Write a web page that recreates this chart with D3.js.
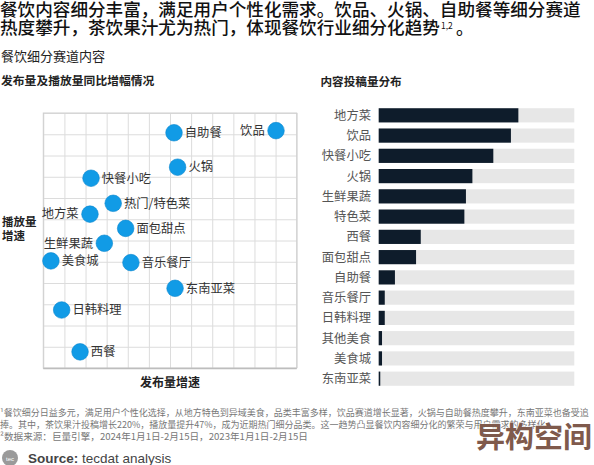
<!DOCTYPE html>
<html><head><meta charset="utf-8">
<script src="https://cdn.jsdelivr.net/npm/d3@7"></script>
<style>
html,body{margin:0;padding:0;background:#fff;}
svg{display:block;font-family:"Noto Sans CJK SC","Noto Sans",sans-serif;}
</style></head>
<body>
<svg id="c" width="594" height="465"></svg>
<script>
// ---- data ----
const scatterNames = ["饮品","自助餐","火锅","快餐小吃","热门/特色菜","地方菜","面包甜点","生鲜果蔬","美食城","音乐餐厅","东南亚菜","日韩料理","西餐"];
const pubGrowth   = [11.02, 6.19, 6.36, 2.26, 3.31, 2.21, 3.90, 2.89, 0.36, 4.15, 6.24, 0.87, 1.74];
const playGrowth  = [11.17, 11.07, 9.45, 8.93, 7.75, 7.24, 6.57, 5.87, 5.04, 4.96, 3.75, 2.73, 0.76];
const gridTicks = d3.range(0, 13);

const barCategories = ["地方菜","饮品","快餐小吃","火锅","生鲜果蔬","特色菜","西餐","面包甜点","自助餐","音乐餐厅","日韩料理","其他美食","美食城","东南亚菜"];
const barValues = [71.4, 67.6, 58.6, 47.9, 44.6, 43.8, 21.5, 19.1, 8.3, 3.1, 3.1, 1.7, 1.7, 0.8];
const barMax = 100;

const titleLines = ["餐饮内容细分丰富，满足用户个性化需求。饮品、火锅、自助餐等细分赛道","热度攀升，茶饮果汁尤为热门，体现餐饮行业细分化趋势"];
const notes = [
  "¹餐饮细分日益多元，满足用户个性化选择，从地方特色到异域美食，品类丰富多样，饮品赛道增长显著，火锅与自助餐热度攀升，东南亚菜也备受追",
  "捧。其中，茶饮果汁投稿增长220%，播放量提升47%，成为近期热门细分品类。这一趋势凸显餐饮内容细分化的繁荣与用户需求的多样化。",
  "²数据来源：巨量引擎，2024年1月1日-2月15日，2023年1月1日-2月15日"
];

const svg = d3.select("#c");

// ---- titles ----
svg.append("text").attr("x",0).attr("y",15.5).attr("font-size",17.6).attr("font-weight",500).attr("fill","#111").text(titleLines[0]);
const t2 = svg.append("text").attr("x",0).attr("y",34).attr("font-size",17.6).attr("font-weight",500).attr("fill","#111");
t2.append("tspan").text(titleLines[1]);
const supX = 0 + 25 * 17.6 + 1;
svg.append("text").attr("x",supX).attr("y",29).attr("font-size",8.5).attr("fill","#111").text("1,2");
svg.append("text").attr("x",supX + 15).attr("y",34).attr("font-size",17.6).attr("font-weight",500).attr("fill","#111").text("。");

svg.append("text").attr("x",1).attr("y",61).attr("font-size",13).attr("fill","#222").text("餐饮细分赛道内容");
svg.append("text").attr("x",1).attr("y",85).attr("font-size",11.8).attr("font-weight",700).attr("fill","#222").text("发布量及播放量同比增幅情况");
svg.append("text").attr("x",320.5).attr("y",86).attr("font-size",11.6).attr("font-weight",700).attr("fill","#222").text("内容投稿量分布");

// ---- scatter ----
const x = d3.scaleLinear().domain([0,12]).range([43.3,296.7]);
const y = d3.scaleLinear().domain([0,12]).range([368,113]);

const gx = svg.append("g").attr("transform","translate(0,368)")
  .call(d3.axisBottom(x).tickValues(gridTicks).tickSize(-(368-113)).tickFormat(""));
const gy = svg.append("g").attr("transform","translate(43.3,0)")
  .call(d3.axisLeft(y).tickValues(gridTicks).tickSize(-(296.7-43.3)).tickFormat(""));
[gx,gy].forEach(g=>{
  g.select(".domain").remove();
  g.selectAll("line").attr("stroke","#dcdcdc").attr("stroke-width",1);
});
svg.append("rect").attr("x",x(0)).attr("y",y(12)).attr("width",x(12)-x(0)).attr("height",y(0)-y(12))
  .attr("fill","none").attr("stroke","#cfcfcf").attr("stroke-width",1);
svg.append("line").attr("x1",x(0)).attr("x2",x(12)).attr("y1",y(0)+0.5).attr("y2",y(0)+0.5).attr("stroke","#bdbdbd").attr("stroke-width",1.5);

const leftLabels = new Set(["饮品","地方菜","生鲜果蔬"]);
const pts = scatterNames.map((n,i)=>({n, px:pubGrowth[i], py:playGrowth[i]}));
const r = 8.3;
const pg = svg.append("g");
pg.selectAll("circle").data(pts).enter().append("circle")
  .attr("cx",d=>x(d.px)).attr("cy",d=>y(d.py)).attr("r",r)
  .attr("fill","#119be6").attr("stroke","#0a86cf").attr("stroke-width",0.6);
pg.selectAll("text").data(pts).enter().append("text")
  .attr("x",d=> leftLabels.has(d.n) ? x(d.px)-r-3 : x(d.px)+r+2.5)
  .attr("y",d=>y(d.py)+4.3)
  .attr("text-anchor",d=> leftLabels.has(d.n) ? "end":"start")
  .attr("font-size",12.3).attr("fill","#333").text(d=>d.n);

svg.append("text").attr("x",170).attr("y",387).attr("text-anchor","middle").attr("font-size",12).attr("font-weight",700).attr("fill","#222").text("发布量增速");
svg.append("text").attr("x",2).attr("y",226).attr("font-size",11.5).attr("font-weight",700).attr("fill","#222").text("播放量");
svg.append("text").attr("x",2).attr("y",240).attr("font-size",11.5).attr("font-weight",700).attr("fill","#222").text("增速");

// ---- bars ----
const by = d3.scaleBand().domain(barCategories).range([105.2,388.8]).paddingInner(0.3).paddingOuter(0.15);
const bx = d3.scaleLinear().domain([0,barMax]).range([378.7,574.3]);
const bg = svg.append("g");
bg.selectAll("rect.bg").data(barCategories).enter().append("rect").attr("class","bg")
  .attr("x",bx(0)).attr("y",d=>by(d)).attr("width",bx(barMax)-bx(0)).attr("height",by.bandwidth()).attr("fill","#e7e7e7");
bg.selectAll("rect.v").data(barValues).enter().append("rect").attr("class","v")
  .attr("x",bx(0)).attr("y",(d,i)=>by(barCategories[i])).attr("width",d=>bx(d)-bx(0)).attr("height",by.bandwidth()).attr("fill","#0e1c2b");
const ya = svg.append("g").attr("transform","translate(371,0)").call(d3.axisLeft(by).tickSize(0).tickPadding(0));
ya.select(".domain").remove();
ya.selectAll("text").attr("font-size",12.3).attr("fill","#555").attr("font-family","'Noto Sans CJK SC',sans-serif").attr("dy","0.36em");

// ---- footnotes ----
const fy = [416, 428, 440];
notes.forEach((t,i)=>{
  svg.append("text").attr("x",0).attr("y",fy[i]).attr("font-size",i===2?9.6:9).attr("fill","#777").text(t);
});
svg.append("circle").attr("cx",10).attr("cy",458).attr("r",8).attr("fill","#9a9a9a");
svg.append("text").attr("x",10).attr("y",460.5).attr("text-anchor","middle").attr("font-size",6).attr("fill","#fff").attr("font-family","Arial,sans-serif").text("tec");
const src = svg.append("text").attr("x",28).attr("y",463).attr("font-size",13.5).attr("fill","#444").attr("font-family","'Liberation Sans',Arial,sans-serif");
src.append("tspan").attr("font-weight",700).text("Source:");
src.append("tspan").text(" tecdat analysis");

// watermark
svg.append("text").attr("x",534).attr("y",448).attr("text-anchor","middle").attr("font-size",29).attr("font-weight",700)
  .attr("fill","#7f5a4c").attr("stroke","#fff").attr("stroke-width",0.8).attr("paint-order","stroke").text("异构空间");
</script>
</body></html>
